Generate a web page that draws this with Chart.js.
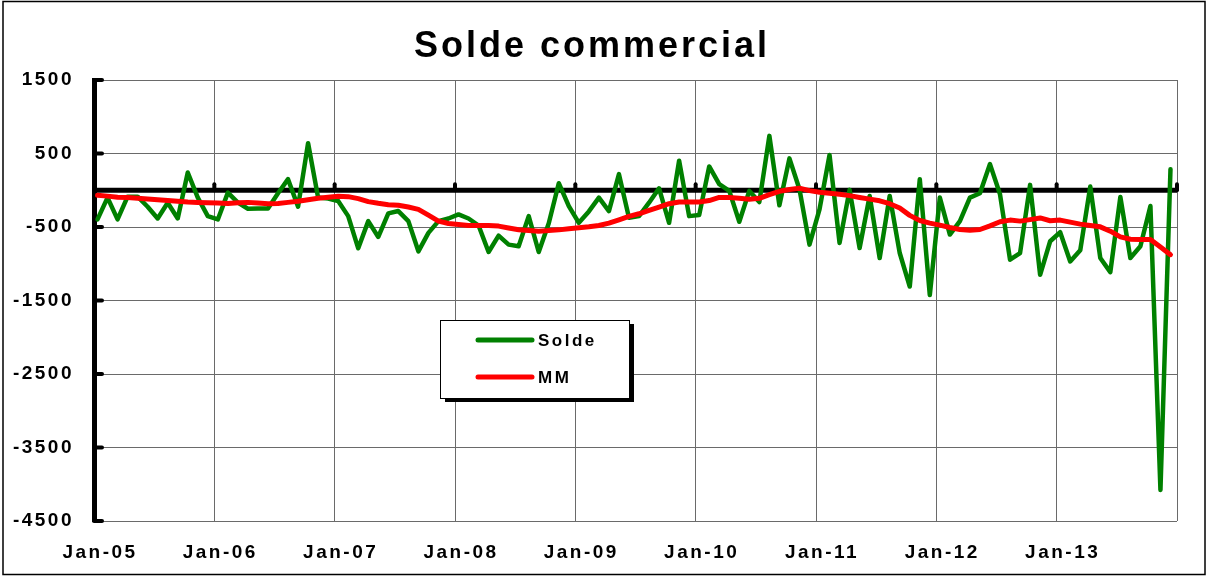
<!DOCTYPE html>
<html>
<head>
<meta charset="utf-8">
<script src="https://cdn.jsdelivr.net/npm/chart.js@4"></script>
<style>
  body { margin: 0; background: #fff; }
  canvas { display: block; }
</style>
</head>
<body>
<canvas id="grafico" width="1208" height="578"></canvas>
<script>
const titre = 'Solde commercial'
const annees = ['Jan-05', 'Jan-06', 'Jan-07', 'Jan-08', 'Jan-09', 'Jan-10', 'Jan-11', 'Jan-12', 'Jan-13']
const valeursY = [-4500, -3500, -2500, -1500, -500, 500, 1500]

// solde mensuel, janvier 2005 a decembre 2013
const solde = [
  -397, -100, -397, -87, -87, -224, -384, -169, -384, 242, -100, -352,
  -397, -32, -169, -251, -247, -247, -41, 151, -224, 640, -100, -114,
  -146, -352, -790, -420, -635, -315, -283, -420, -831, -580, -420, -384,
  -329, -384, -480, -840, -617, -740, -763, -352, -840, -450, 96, -215,
  -443, -288, -100, -283, 219, -374, -352, -169, 27, -443, 402, -352,
  -338, 324, 82, -9, -429, -9, -160, 740, -205, 434, 14, -740,
  -260, 480, -717, 5, -786, -78, -922, -78, -854, -1310, 151, -1425,
  -100, -603, -420, -100, -41, 356, -55, -945, -854, 73, -1151, -694,
  -571, -968, -817, 50, -922, -1114, -91, -922, -763, -215, -4078, 285
]

// moyenne mobile
const mm = [
  -68, -80, -95, -100, -110, -120, -130, -140, -150, -160, -165, -170,
  -175, -180, -170, -165, -175, -183, -180, -165, -150, -128, -110, -96,
  -82, -87, -114, -155, -178, -196, -205, -228, -260, -338, -420, -452,
  -466, -480, -480, -480, -488, -513, -537, -548, -557, -548, -539, -525,
  -511, -498, -480, -447, -402, -356, -320, -274, -228, -183, -160, -160,
  -160, -140, -98, -100, -110, -123, -110, -59, -14, 9, 27, -5,
  -27, -41, -55, -73, -98, -121, -144, -183, -242, -342, -411, -447,
  -475, -507, -534, -543, -534, -484, -429, -406, -420, -400, -377, -415,
  -406, -434, -461, -480, -498, -557, -635, -667, -671, -671, -772, -877
]

const police = 'Arial, "Liberation Sans", sans-serif'
const vert = '#008000'
const rouge = '#ff0000'
const gris = '#6a6a6a'

function points(serie) {
  return serie.map((v, i) => ({ x: i + 0.35, y: v }))
}

// axe du zero, cadre, titre et legende
const habillage = {
  id: 'habillage',
  beforeDraw(chart) {
    const ctx = chart.ctx
    ctx.save()
    ctx.fillStyle = '#fff'
    ctx.fillRect(0, 0, chart.width, chart.height)
    ctx.restore()
    ctx.letterSpacing = '2.5px'
  },
  beforeDatasetsDraw(chart) {
    const ctx = chart.ctx
    const { left, right } = chart.chartArea
    const sx = chart.scales.x
    const sy = chart.scales.y
    const y0 = sy.getPixelForValue(0)
    ctx.save()
    ctx.strokeStyle = '#000'
    ctx.lineCap = 'butt'
    ctx.lineWidth = 5
    ctx.beginPath()
    ctx.moveTo(left, y0)
    ctx.lineTo(right, y0)
    ctx.stroke()
    ctx.lineCap = 'round'
    ctx.lineWidth = 4
    sx.ticks.forEach(t => {
      if (t.value === 0) return
      const x = sx.getPixelForValue(t.value)
      ctx.beginPath()
      ctx.moveTo(x, y0)
      ctx.lineTo(x, y0 - 6)
      ctx.stroke()
    })
    valeursY.forEach(v => {
      const y = sy.getPixelForValue(v)
      ctx.beginPath()
      ctx.moveTo(left, y)
      ctx.lineTo(left + 8, y)
      ctx.stroke()
    })
    ctx.restore()
  },
  afterDraw(chart) {
    const ctx = chart.ctx
    ctx.save()
    ctx.fillStyle = '#000'
    ctx.textAlign = 'center'
    ctx.textBaseline = 'alphabetic'
    ctx.font = 'bold 36px ' + police
    ctx.letterSpacing = '3px'
    ctx.fillText(titre, 592, 57)

    // legende
    const lx = 440, ly = 320, lw = 189, lh = 78
    ctx.fillRect(lx + 5, ly + 4, lw, lh)
    ctx.fillStyle = '#fff'
    ctx.fillRect(lx, ly, lw, lh)
    ctx.strokeStyle = '#000'
    ctx.lineWidth = 1
    ctx.strokeRect(lx + 0.5, ly + 0.5, lw, lh)
    const entrees = chart.data.datasets
    entrees.forEach((d, k) => {
      const y = ly + 20 + k * 37
      ctx.strokeStyle = d.borderColor
      ctx.lineWidth = 5
      ctx.lineCap = 'round'
      ctx.beginPath()
      ctx.moveTo(lx + 38, y)
      ctx.lineTo(lx + 92, y)
      ctx.stroke()
      ctx.fillStyle = '#000'
      ctx.textAlign = 'left'
      ctx.textBaseline = 'middle'
      ctx.font = 'bold 17px ' + police
      ctx.letterSpacing = '2.5px'
      ctx.fillText(d.label, lx + 98, y + 1)
    })

    // cadre exterieur
    ctx.strokeStyle = '#000'
    ctx.lineWidth = 1.5
    ctx.strokeRect(3, 1.5, 1202, 573)
    ctx.restore()
  }
}

new Chart(document.getElementById('grafico'), {
  type: 'line',
  data: {
    datasets: [
      {
        label: 'Solde',
        data: points(solde),
        borderColor: vert,
        backgroundColor: vert,
        borderWidth: 4.5,
        pointRadius: 0,
        tension: 0,
        fill: false,
        borderJoinStyle: 'round',
        borderCapStyle: 'round',
        order: 2
      },
      {
        label: 'MM',
        data: points(mm),
        borderColor: rouge,
        backgroundColor: rouge,
        borderWidth: 5,
        pointRadius: 0,
        tension: 0,
        fill: false,
        borderJoinStyle: 'round',
        borderCapStyle: 'round',
        order: 1
      }
    ]
  },
  options: {
    responsive: false,
    animation: false,
    layout: { padding: { top: 80, left: 0, right: 31, bottom: 0 } },
    plugins: {
      legend: { display: false },
      title: { display: false },
      tooltip: { enabled: false }
    },
    scales: {
      x: {
        type: 'linear',
        min: 0,
        max: 108,
        afterBuildTicks: s => {
          s.ticks = annees.map((a, k) => ({ value: k * 12 })).concat([{ value: 108 }])
        },
        afterFit: s => { s.height = 57 },
        border: { display: false },
        grid: { color: gris, lineWidth: 1, drawTicks: false },
        ticks: {
          callback: v => annees[v / 12] || '',
          color: '#000',
          font: { family: police, size: 19, weight: 'bold' },
          padding: 20,
          labelOffset: 6,
          maxRotation: 0,
          autoSkip: false
        }
      },
      y: {
        min: -4500,
        max: 1500,
        afterBuildTicks: s => {
          s.ticks = valeursY.map(v => ({ value: v }))
        },
        afterFit: s => { s.width = 94 },
        border: { display: true, color: '#000', width: 5 },
        grid: { color: gris, lineWidth: 1, drawTicks: false },
        ticks: {
          callback: v => String(v),
          color: '#000',
          font: { family: police, size: 19, weight: 'bold' },
          padding: 20
        }
      }
    }
  },
  plugins: [habillage]
})
</script>
</body>
</html>
